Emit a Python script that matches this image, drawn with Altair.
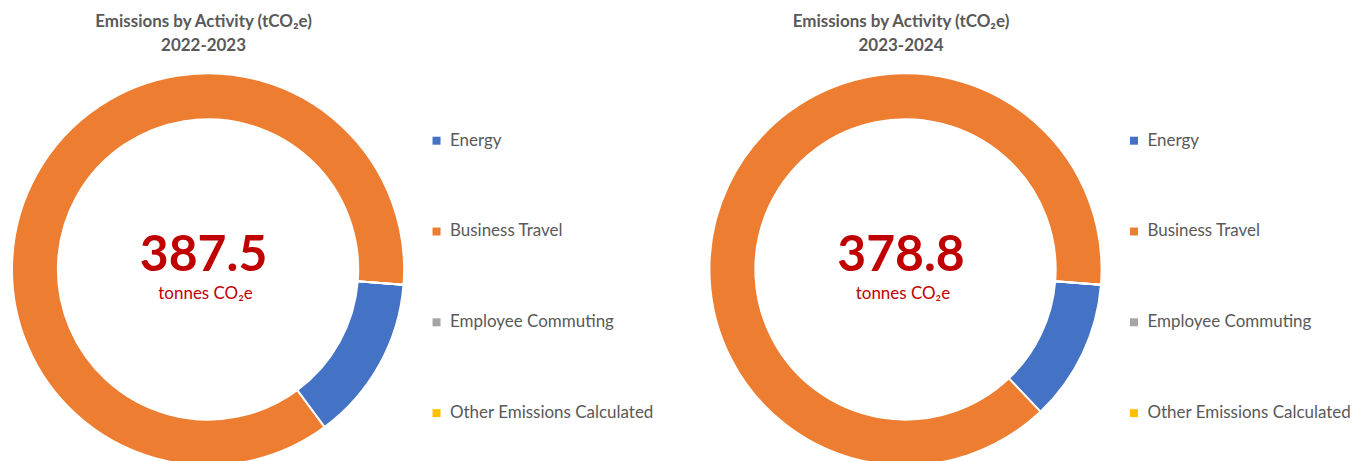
import math
import altair as alt
import pandas as pd

# ---- data ----
categories = ["Energy", "Business Travel", "Employee Commuting", "Other Emissions Calculated"]
colors = ["#4472C4", "#ED7D31", "#A5A5A5", "#FFC000"]
values_2022_2023 = [52.8, 334.7, 0.0, 0.0]
values_2023_2024 = [44.2, 334.6, 0.0, 0.0]
totals = ["387.5", "378.8"]
periods = ["2022-2023", "2023-2024"]
title_text = "Emissions by Activity (tCO₂e)"
unit_text = "tonnes CO₂e"

FONT = "Lato"
GREY = "#595959"
RED = "#C00000"
START = math.radians(94.5)
CX, CY = 208.5, 269.5


def panel(vals, total, period, width):
    df = pd.DataFrame({"Activity": categories, "tCO2e": vals, "order": list(range(len(categories)))})
    arc = alt.Chart(df).mark_arc(innerRadius=150.5, outerRadius=196.5, stroke="white", strokeWidth=2).encode(
        theta=alt.Theta("tCO2e:Q", stack=True, scale=alt.Scale(range=[START, START + 2 * math.pi])),
        color=alt.Color(
            "Activity:N",
            sort=categories,
            scale=alt.Scale(domain=categories, range=colors),
            legend=alt.Legend(
                orient="none", legendX=429, legendY=132, direction="vertical", title=None,
                symbolType="square", symbolSize=64, symbolStrokeWidth=0,
                labelFont=FONT, labelFontSize=17, labelColor=GREY, labelOffset=5,
                labelLimit=0, rowPadding=73, padding=0,
            ),
        ),
        order=alt.Order("order:Q", sort="ascending"),
        x=alt.value(CX),
        y=alt.value(CY),
    )
    t1 = alt.Chart(pd.DataFrame({"t": [title_text]})).mark_text(
        font=FONT, fontSize=17, fontWeight="bold", color=GREY, baseline="middle"
    ).encode(text="t:N", x=alt.value(204), y=alt.value(22))
    t2 = alt.Chart(pd.DataFrame({"t": [period]})).mark_text(
        font=FONT, fontSize=17, fontWeight="bold", color=GREY, baseline="middle"
    ).encode(text="t:N", x=alt.value(204), y=alt.value(46))
    num = alt.Chart(pd.DataFrame({"t": [total]})).mark_text(
        font=FONT, fontSize=50, fontWeight="bold", color=RED, baseline="middle"
    ).encode(text="t:N", x=alt.value(204), y=alt.value(256))
    unit = alt.Chart(pd.DataFrame({"t": [unit_text]})).mark_text(
        font=FONT, fontSize=17, color=RED, baseline="middle"
    ).encode(text="t:N", x=alt.value(206), y=alt.value(294))
    return alt.layer(arc, t1, t2, num, unit).properties(width=width, height=461)


left = panel(values_2022_2023, totals[0], periods[0], 699)
right = panel(values_2023_2024, totals[1], periods[1], 653)

chart = alt.hconcat(left, right, spacing=0, padding=0).resolve_legend(color="independent").resolve_scale(
    color="independent", theta="independent"
).configure_view(stroke=None)

chart.save("out.html", embed_options={"renderer": "svg", "actions": False})
